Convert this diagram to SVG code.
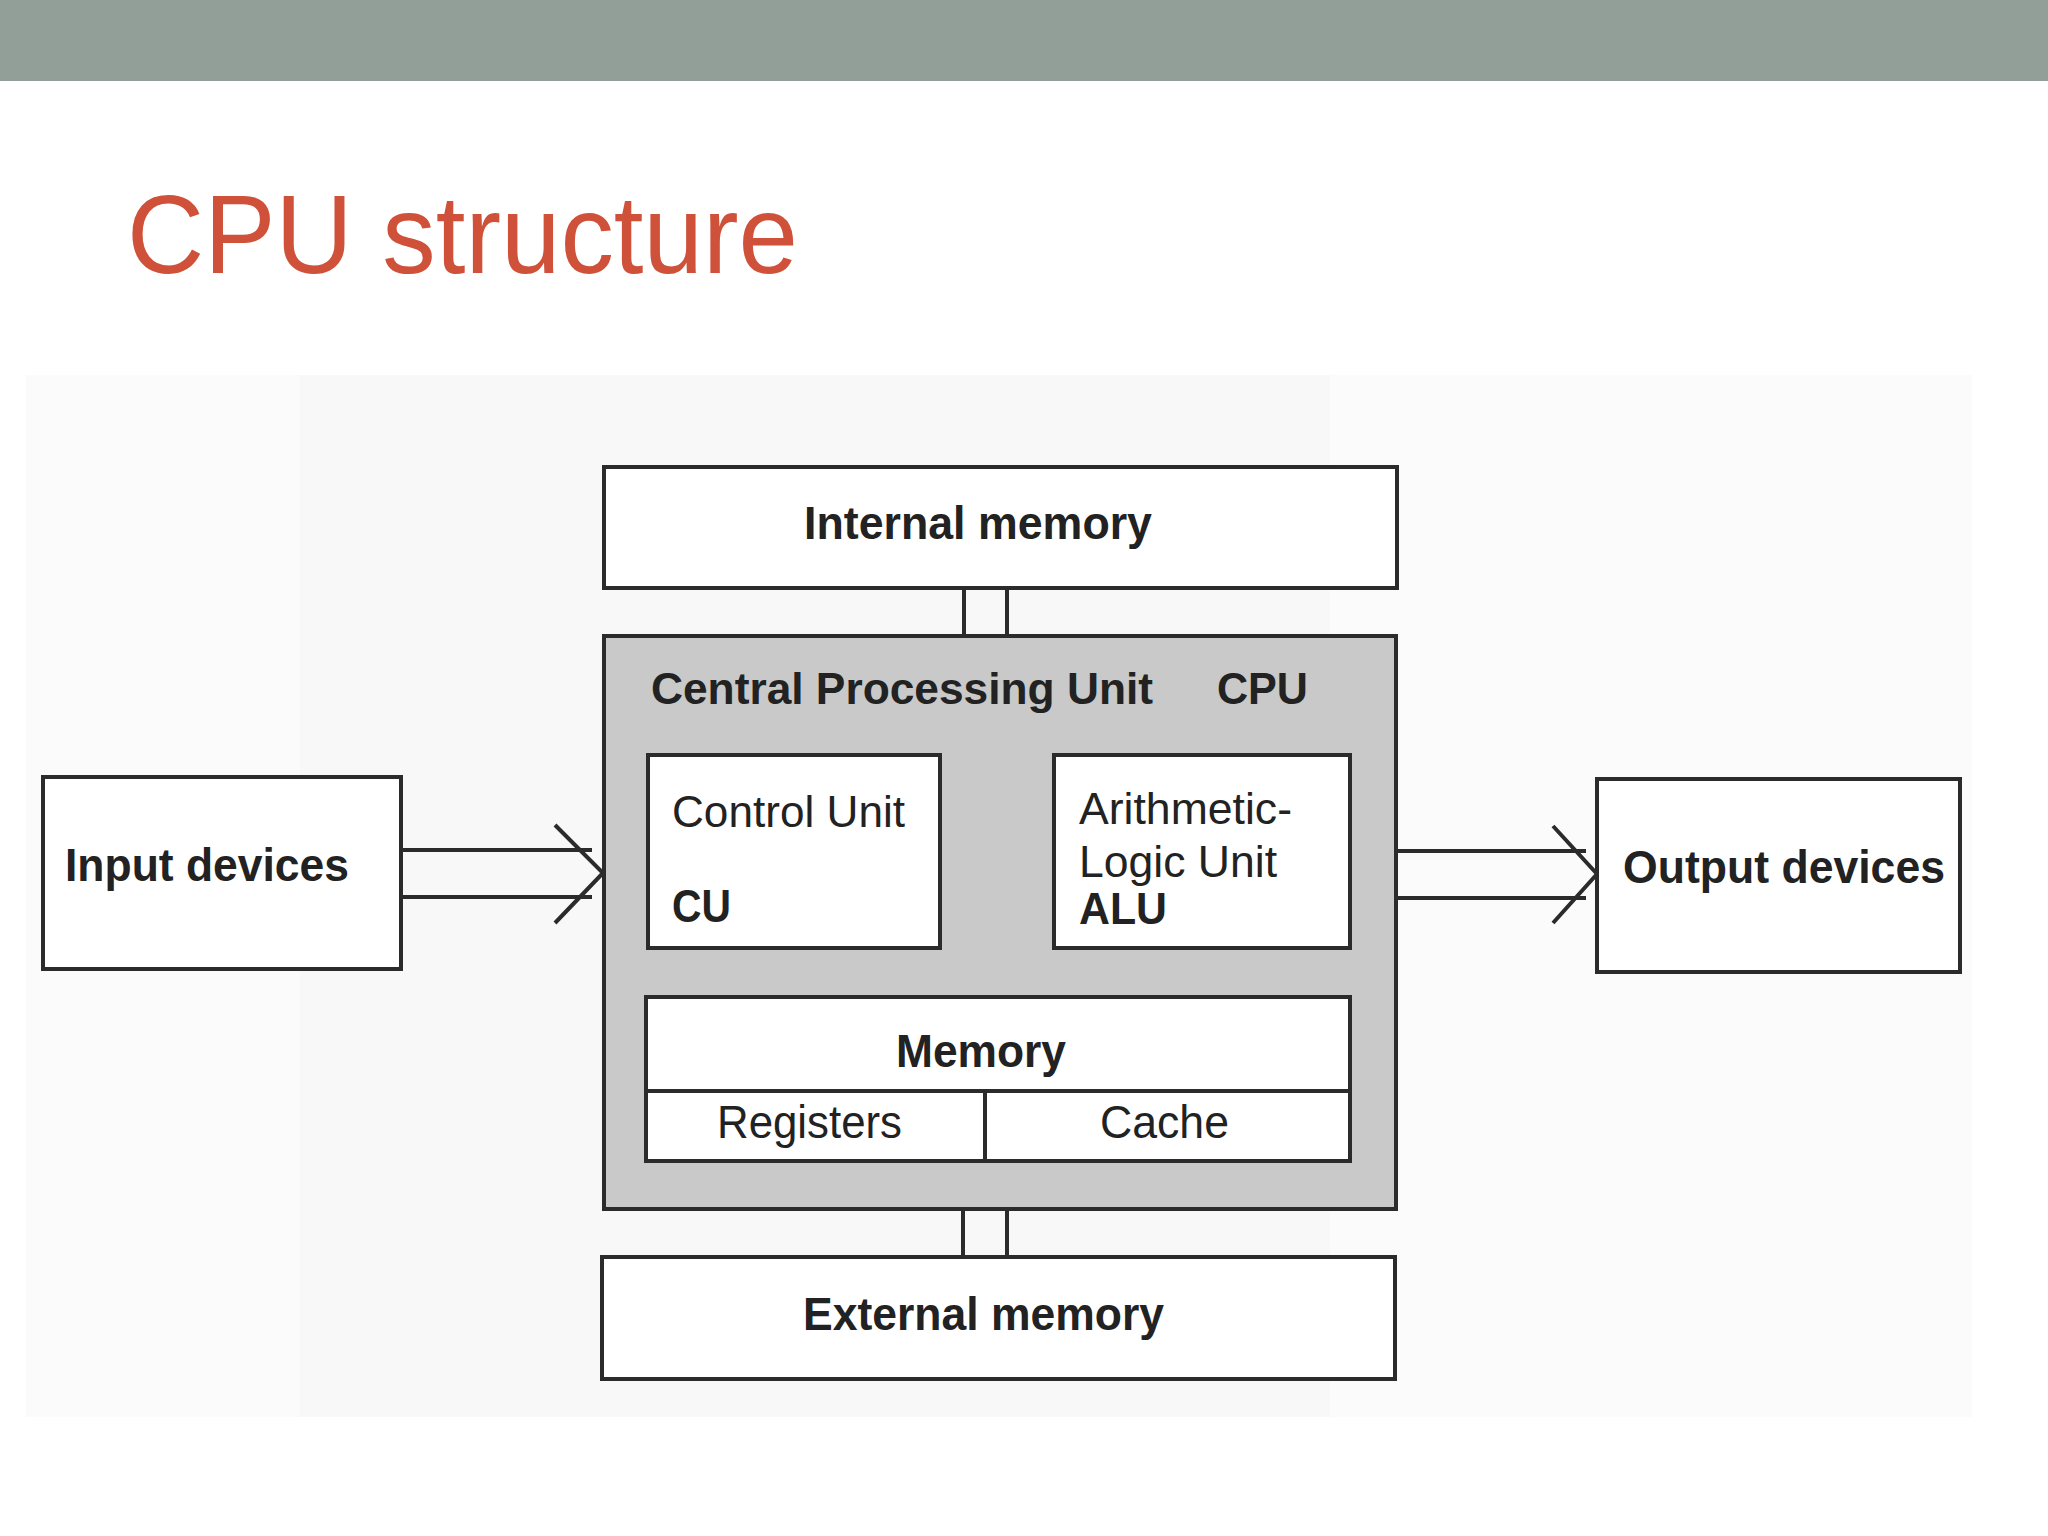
<svg xmlns="http://www.w3.org/2000/svg" width="2048" height="1536" viewBox="0 0 2048 1536">
<style>
.box{fill:#ffffff;stroke:#2b2b2b;stroke-width:4}
.cpu{fill:#c9c9c9;stroke:#2b2b2b;stroke-width:4}
.ln{stroke:#2b2b2b;stroke-width:4;fill:none}
.b{font-family:"Liberation Sans",Arial,sans-serif;font-weight:bold;fill:#222222}
.r{font-family:"Liberation Sans",Arial,sans-serif;fill:#222222}
</style>
<rect x="0" y="0" width="2048" height="1536" fill="#ffffff"/>
<rect x="0" y="0" width="2048" height="81" fill="#919f98"/>
<text x="127" y="273" font-family="Liberation Sans, Arial, sans-serif" font-size="112" fill="#cf5139" textLength="671" lengthAdjust="spacingAndGlyphs">CPU structure</text>
<rect x="26" y="375" width="1946" height="1042" fill="#fbfbfb"/>
<rect x="300" y="375" width="1030" height="1042" fill="#f8f8f8"/>

<g id="connectors">
  <line class="ln" x1="964" y1="588" x2="964" y2="636"/>
  <line class="ln" x1="1007" y1="588" x2="1007" y2="636"/>
  <line class="ln" x1="963" y1="1209" x2="963" y2="1257"/>
  <line class="ln" x1="1007" y1="1209" x2="1007" y2="1257"/>
  <line class="ln" x1="401" y1="850" x2="592" y2="850"/>
  <line class="ln" x1="401" y1="897" x2="592" y2="897"/>
  <polyline class="ln" points="555,825 603,873 555,923"/>
  <line class="ln" x1="1396" y1="851" x2="1586" y2="851"/>
  <line class="ln" x1="1396" y1="898" x2="1586" y2="898"/>
  <polyline class="ln" points="1553,826 1597,874 1553,923"/>
</g>

<g id="internal-memory">
  <rect class="box" x="604" y="467" width="793" height="121"/>
  <text class="b" x="804" y="539" font-size="47" textLength="348" lengthAdjust="spacingAndGlyphs">Internal memory</text>
</g>

<g id="cpu">
  <rect class="cpu" x="604" y="636" width="792" height="573"/>
  <text class="b" x="651" y="704" font-size="45" textLength="502" lengthAdjust="spacingAndGlyphs">Central Processing Unit</text>
  <text class="b" x="1217" y="704" font-size="45" textLength="91" lengthAdjust="spacingAndGlyphs">CPU</text>
</g>

<g id="control-unit">
  <rect class="box" x="648" y="755" width="292" height="193"/>
  <text class="r" x="672" y="827" font-size="45" textLength="233" lengthAdjust="spacingAndGlyphs">Control Unit</text>
  <text class="b" x="672" y="922" font-size="46" textLength="59" lengthAdjust="spacingAndGlyphs">CU</text>
</g>

<g id="alu">
  <rect class="box" x="1054" y="755" width="296" height="193"/>
  <text class="r" x="1079" y="824" font-size="45" textLength="213" lengthAdjust="spacingAndGlyphs">Arithmetic-</text>
  <text class="r" x="1079" y="877" font-size="45" textLength="198" lengthAdjust="spacingAndGlyphs">Logic Unit</text>
  <text class="b" x="1079" y="924" font-size="45" textLength="88" lengthAdjust="spacingAndGlyphs">ALU</text>
</g>

<g id="memory">
  <rect class="box" x="646" y="997" width="704" height="164"/>
  <line class="ln" x1="646" y1="1091" x2="1350" y2="1091"/>
  <line class="ln" x1="985" y1="1091" x2="985" y2="1161"/>
  <text class="b" x="896" y="1067" font-size="47" textLength="170" lengthAdjust="spacingAndGlyphs">Memory</text>
</g>

<g id="registers">
  <text class="r" x="717" y="1138" font-size="46" textLength="185" lengthAdjust="spacingAndGlyphs">Registers</text>
</g>

<g id="cache">
  <text class="r" x="1100" y="1138" font-size="46" textLength="129" lengthAdjust="spacingAndGlyphs">Cache</text>
</g>

<g id="external-memory">
  <rect class="box" x="602" y="1257" width="793" height="122"/>
  <text class="b" x="803" y="1330" font-size="47" textLength="361" lengthAdjust="spacingAndGlyphs">External memory</text>
</g>

<g id="input-devices">
  <rect class="box" x="43" y="777" width="358" height="192"/>
  <text class="b" x="65" y="881" font-size="47" textLength="284" lengthAdjust="spacingAndGlyphs">Input devices</text>
</g>

<g id="output-devices">
  <rect class="box" x="1597" y="779" width="363" height="193"/>
  <text class="b" x="1623" y="883" font-size="47" textLength="322" lengthAdjust="spacingAndGlyphs">Output devices</text>
</g>
</svg>
